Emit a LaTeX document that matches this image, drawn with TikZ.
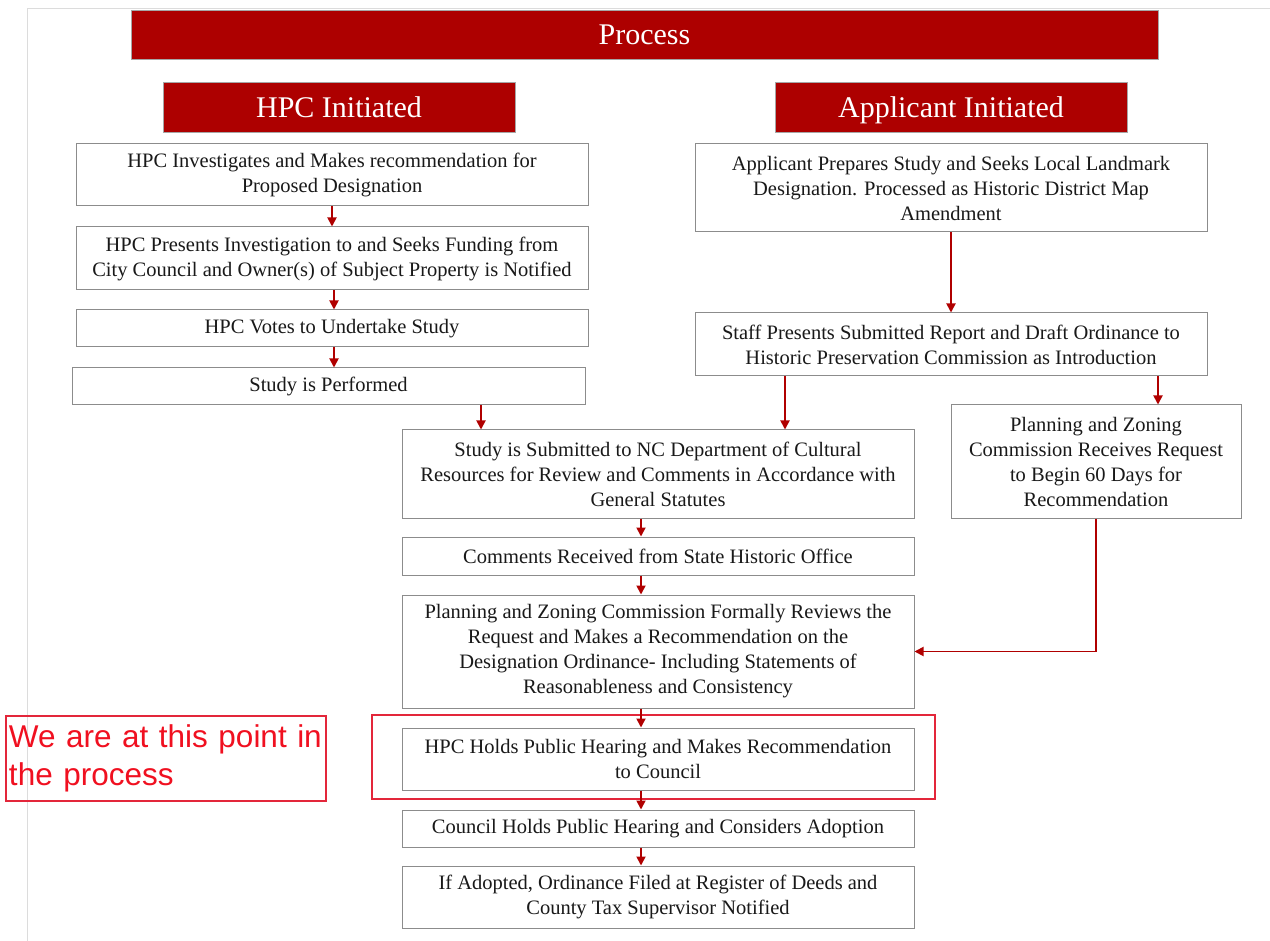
\documentclass[tikz,border=0pt]{standalone}
\usepackage{fontspec}
\setmainfont{Liberation Serif}
\newfontfamily\arialf{Liberation Sans}
\usetikzlibrary{arrows.meta}
\definecolor{hdr}{HTML}{AD0000}
\definecolor{arrc}{HTML}{B00000}
\definecolor{boxline}{HTML}{8C8C8C}
\definecolor{hlred}{HTML}{E3263A}
\definecolor{lblred}{HTML}{F01020}
\definecolor{framegray}{HTML}{DCDCDC}
\begin{document}
\begin{tikzpicture}[x=1pt,y=-1pt,
  stepbox/.style={draw=boxline, line width=1pt, fill=white, align=center, inner sep=2pt,
    text=black!90, font=\fontsize{20.5}{25}\selectfont},
  hdrbox/.style={fill=hdr, draw=gray!70, line width=0.8pt, text=white,
    font=\fontsize{30}{36}\selectfont, inner sep=0pt, text height=24pt, text depth=3pt},
  arr/.style={draw=arrc, line width=1.8pt, -{Triangle[width=9pt,length=9pt]}},
]
\useasboundingbox (0,0) rectangle (1270,941);
% faint frame
\draw[framegray, line width=1pt] (27,941) -- (27,9) -- (1270,9);

% headers
\node[hdrbox, minimum width=1027pt, minimum height=49pt] (title) at (644.5,34.5) {Process};
\node[hdrbox, minimum width=352pt, minimum height=50pt] (hpc) at (339,107) {HPC Initiated};
\node[hdrbox, minimum width=352pt, minimum height=50pt] (app) at (951,107) {Applicant Initiated};

% highlight box
\node[draw=hlred, line width=2pt, minimum width=563pt, minimum height=84pt, inner sep=0pt] (hl) at (653.5,757) {};

% left column
\node[stepbox, minimum width=512pt, minimum height=62pt] (b1) at (332,175)
  {HPC Investigates and Makes recommendation for\\Proposed Designation};
\node[stepbox, minimum width=512pt, minimum height=63pt] (b2) at (332,258.5)
  {HPC Presents Investigation to and Seeks Funding from\\City Council and Owner(s) of Subject Property is Notified};
\node[stepbox, minimum width=512pt, minimum height=37pt] (b3) at (332,328.5)
  {HPC Votes to Undertake Study};
\node[stepbox, minimum width=513pt, minimum height=37pt] (b4) at (328.5,386.5)
  {Study is Performed};

% right column
\node[stepbox, minimum width=512pt, minimum height=88pt] (a1) at (951,188)
  {Applicant Prepares Study and Seeks Local Landmark\\Designation. Processed as Historic District Map\\Amendment};
\node[stepbox, minimum width=512pt, minimum height=63pt] (a2) at (951,344.5)
  {Staff Presents Submitted Report and Draft Ordinance to\\Historic Preservation Commission as Introduction};
\node[stepbox, minimum width=290pt, minimum height=113pt] (pz) at (1096,461.5)
  {Planning and Zoning\\Commission Receives Request\\to Begin 60 Days for\\Recommendation};

% centre column
\node[stepbox, minimum width=512pt, minimum height=88pt] (s1) at (658,474)
  {Study is Submitted to NC Department of Cultural\\Resources for Review and Comments in Accordance with\\General Statutes};
\node[stepbox, minimum width=512pt, minimum height=38pt] (s2) at (658,556)
  {Comments Received from State Historic Office};
\node[stepbox, minimum width=512pt, minimum height=113pt] (s3) at (658,651.5)
  {Planning and Zoning Commission Formally Reviews the\\Request and Makes a Recommendation on the\\Designation Ordinance- Including Statements of\\Reasonableness and Consistency};
\node[stepbox, minimum width=512pt, minimum height=62pt] (s4) at (658,759)
  {HPC Holds Public Hearing and Makes Recommendation\\to Council};
\node[stepbox, minimum width=512pt, minimum height=37pt] (s5) at (658,828.5)
  {Council Holds Public Hearing and Considers Adoption};
\node[stepbox, minimum width=512pt, minimum height=62pt] (s6) at (658,897)
  {If Adopted, Ordinance Filed at Register of Deeds and\\County Tax Supervisor Notified};

% label
\node[draw=hlred, line width=2pt, minimum width=320pt, minimum height=85pt, inner sep=0pt,
  text width=314pt, align=left, text=lblred, font=\arialf\fontsize{31.5}{38}\selectfont] (lbl) at (166,758.5)
  {We are at this point in\\the process};

% x positions for connectors
\coordinate (xb) at (334,0);
\coordinate (xc) at (641,0);
\coordinate (xd) at (481,0);
\coordinate (xe) at (785,0);
\coordinate (xf) at (1158,0);

% connectors
\draw[arr] (b1.south) -- (b2.north);
\draw[arr] (b2.south -| xb) -- (b3.north -| xb);
\draw[arr] (b3.south -| xb) -- (b4.north -| xb);
\draw[arr] (b4.south -| xd) -- (s1.north -| xd);
\draw[arr] (a1.south) -- (a2.north);
\draw[arr] (a2.south -| xe) -- (s1.north -| xe);
\draw[arr] (a2.south -| xf) -- (pz.north -| xf);
\draw[arr] (s1.south -| xc) -- (s2.north -| xc);
\draw[arr] (s2.south -| xc) -- (s3.north -| xc);
\draw[arr] (pz.south) |- (s3.east);
\draw[arr] (s3.south -| xc) -- (s4.north -| xc);
\draw[arr] (s4.south -| xc) -- (s5.north -| xc);
\draw[arr] (s5.south -| xc) -- (s6.north -| xc);
\end{tikzpicture}
\end{document}
